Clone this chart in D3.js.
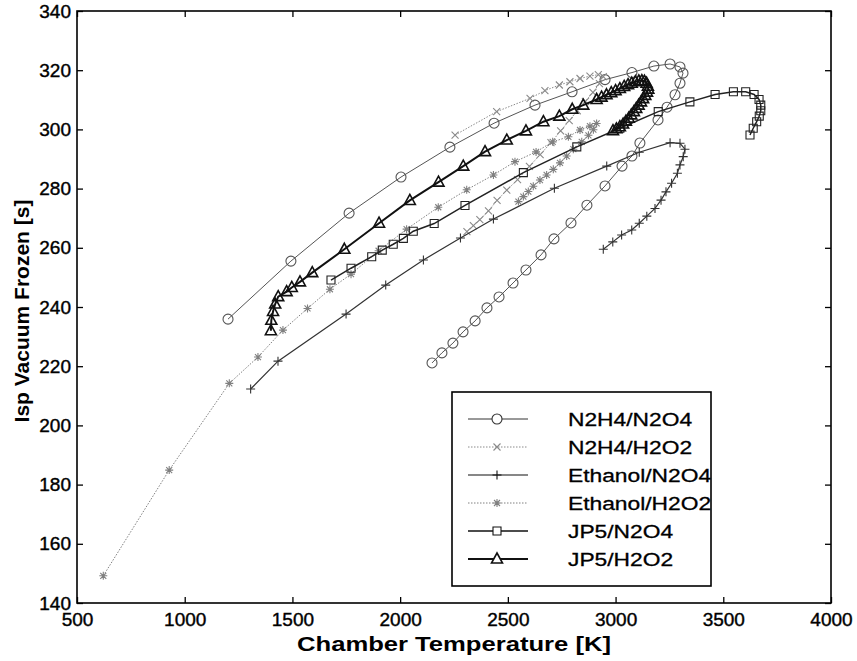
<!DOCTYPE html>
<html>
<head>
<meta charset="utf-8">
<script src="https://cdn.jsdelivr.net/npm/d3@7"></script>
<style>
  body { margin: 0; background: #fff; }
  text { font-family: "Liberation Sans", Arial, Helvetica, sans-serif; }
</style>
</head>
<body>
<div id="chart"></div>
<script>
// tick values
const xTicks = [500, 1000, 1500, 2000, 2500, 3000, 3500, 4000];
const yTicks = [140, 160, 180, 200, 220, 240, 260, 280, 300, 320, 340];

// series values (chamber temperature [K], Isp [s])
const n2h4N2o4T = [1201, 1493, 1763, 2004, 2231, 2436, 2626, 2798, 2951, 3076, 3178, 3253, 3299, 3313, 3299, 3276, 3239, 3197, 3113, 3076, 3030, 2951, 2867, 2793, 2714, 2654, 2584, 2524, 2459, 2403, 2348, 2292, 2245, 2194, 2148];
const n2h4N2o4Isp = [235.9, 255.5, 271.7, 283.9, 294.0, 302.1, 308.2, 312.7, 316.8, 319.2, 321.4, 322.1, 321.1, 319.0, 315.6, 311.7, 307.5, 303.2, 295.4, 291.0, 287.6, 280.9, 274.4, 268.4, 263.0, 257.6, 252.5, 248.1, 243.4, 239.7, 235.3, 231.6, 227.8, 224.5, 221.1];

const n2h4H2o2T = [2255, 2448, 2603, 2672, 2739, 2788, 2835, 2881, 2920, 2943, 2925, 2895, 2860, 2822, 2785, 2745, 2700, 2650, 2600, 2545, 2495, 2450, 2410, 2370, 2340, 2310];
const n2h4H2o2Isp = [298.1, 306.0, 310.5, 313.1, 315.0, 316.1, 317.2, 318.0, 318.5, 317.8, 315.5, 312.5, 309.5, 306.3, 303.0, 299.5, 295.5, 291.5, 287.5, 283.0, 279.5, 276.0, 272.5, 269.5, 267.5, 265.5];

const ethN2o4T = [1306, 1433, 1749, 1933, 2108, 2280, 2433, 2716, 2959, 3110, 3253, 3299, 3322, 3314, 3299, 3287, 3260, 3234, 3211, 3183, 3145, 3110, 3075, 3028, 2987, 2943];
const ethN2o4Isp = [212.3, 221.7, 237.6, 247.4, 255.9, 263.3, 269.7, 280.1, 287.6, 292.3, 295.5, 295.3, 293.3, 290.8, 288.0, 285.2, 281.8, 278.9, 276.1, 273.3, 270.7, 268.3, 266.0, 264.3, 262.0, 259.5];

const ethH2o2T = [622, 928, 1207, 1340, 1456, 1570, 1674, 1772, 1900, 2030, 2177, 2309, 2433, 2533, 2631, 2708, 2781, 2835, 2881, 2912, 2897, 2874, 2843, 2804, 2773, 2742, 2711, 2680, 2649, 2618, 2595, 2572, 2549];
const ethH2o2Isp = [149.2, 184.9, 214.2, 223.1, 232.2, 239.5, 246.0, 251.1, 259.0, 266.3, 273.7, 279.6, 284.6, 289.1, 292.4, 295.8, 297.5, 299.8, 301.1, 302.0, 299.9, 298.0, 295.8, 293.3, 291.0, 288.7, 286.5, 284.6, 282.9, 280.8, 279.0, 277.3, 275.6];

const jp5N2o4T = [1679, 1772, 1868, 1917, 1968, 2015, 2061, 2158, 2301, 2572, 2820, 3020, 3198, 3345, 3462, 3547, 3604, 3643, 3666, 3674, 3674, 3667, 3655, 3639, 3624];
const jp5N2o4Isp = [249.1, 253.1, 257.0, 259.2, 261.2, 263.2, 265.6, 268.2, 274.3, 285.4, 294.1, 300.4, 306.0, 309.3, 311.8, 312.7, 312.7, 311.8, 310.1, 308.2, 306.3, 304.5, 302.6, 300.4, 298.1];

const jp5H2o2T = [1400, 1402, 1410, 1420, 1434, 1473, 1497, 1535, 1592, 1741, 1902, 2045, 2178, 2293, 2394, 2495, 2584, 2665, 2739, 2799, 2850, 2912, 2935, 2958, 2980, 3000, 3020, 3040, 3058, 3075, 3092, 3108, 3122, 3134, 3144, 3150, 3152, 3146, 3138, 3128, 3118, 3107, 3096, 3085, 3073, 3061, 3048, 3035, 3020, 3004, 2988];
const jp5H2o2Isp = [232.0, 235.5, 238.5, 241.0, 243.5, 245.2, 246.6, 248.5, 251.6, 259.5, 268.3, 276.0, 282.2, 287.6, 292.5, 296.4, 299.5, 302.6, 304.5, 306.8, 308.2, 310.1, 310.9, 311.7, 312.4, 313.1, 313.8, 314.5, 315.1, 315.6, 316.1, 316.4, 316.5, 316.3, 315.6, 314.6, 313.6, 312.6, 311.5, 310.4, 309.3, 308.2, 307.1, 306.0, 304.9, 303.8, 302.8, 301.8, 300.9, 300.2, 299.6];

const seriesNames = ["N2H4/N2O4", "N2H4/H2O2", "Ethanol/N2O4", "Ethanol/H2O2", "JP5/N2O4", "JP5/H2O2"];

const width = 857, height = 661;
const plot = {left: 77, right: 831, top: 11, bottom: 603};

const series = [
    {name: seriesNames[0], t: n2h4N2o4T, isp: n2h4N2o4Isp, marker: "circle", color: "#555", legendColor: "#333", lw: 1, dash: null},
    {name: seriesNames[1], t: n2h4H2o2T, isp: n2h4H2o2Isp, marker: "x", color: "#8a8a8a", legendColor: "#8a8a8a", lw: 1, dash: "1.5,1.5"},
    {name: seriesNames[2], t: ethN2o4T, isp: ethN2o4Isp, marker: "plus", color: "#333", legendColor: "#111", lw: 1.2, dash: null},
    {name: seriesNames[3], t: ethH2o2T, isp: ethH2o2Isp, marker: "star", color: "#808080", legendColor: "#808080", lw: 1, dash: "1.5,1.5"},
    {name: seriesNames[4], t: jp5N2o4T, isp: jp5N2o4Isp, marker: "square", color: "#222", legendColor: "#111", lw: 1.5, dash: null},
    {name: seriesNames[5], t: jp5H2o2T, isp: jp5H2o2Isp, marker: "triangle", color: "#111", legendColor: "#111", lw: 2, dash: null}
];

const svg = d3.select("#chart").append("svg")
    .attr("width", width)
    .attr("height", height)
    .style("background", "#fff");

const x = d3.scaleLinear().domain([500, 4000]).range([plot.left, plot.right]);
const y = d3.scaleLinear().domain([140, 340]).range([plot.bottom, plot.top]);

// marker shapes, drawn as open outlines
function markerPath(type) {
    switch (type) {
        case "circle": return d3.symbol(d3.symbolCircle, Math.PI * 25)();
        case "square": return "M-4,-4H4V4H-4Z";
        case "triangle": return "M0,-6L5.5,4H-5.5Z";
        case "plus": return "M-4.5,0H4.5M0,-4.5V4.5";
        case "x": return "M-3.5,-3.5L3.5,3.5M-3.5,3.5L3.5,-3.5";
        case "star": return "M-4,0H4M0,-4V4M-3,-3L3,3M-3,3L3,-3";
    }
}

// axes: ticks pointing inward on all four sides
const axB = svg.append("g").attr("transform", `translate(0,${plot.bottom})`)
    .call(d3.axisBottom(x).tickValues(xTicks).tickSize(-6).tickPadding(10).tickFormat(d3.format("d")));
const axL = svg.append("g").attr("transform", `translate(${plot.left},0)`)
    .call(d3.axisLeft(y).tickValues(yTicks).tickSize(-6).tickPadding(6).tickFormat(d3.format("d")));
const axT = svg.append("g").attr("transform", `translate(0,${plot.top})`)
    .call(d3.axisTop(x).tickValues(xTicks).tickSize(-6).tickFormat(""));
const axR = svg.append("g").attr("transform", `translate(${plot.right},0)`)
    .call(d3.axisRight(y).tickValues(yTicks).tickSize(-6).tickFormat(""));

[axB, axL, axT, axR].forEach(a => {
    a.select(".domain").remove();
    a.selectAll(".tick line").attr("stroke", "#000").attr("stroke-width", 1.3);
    a.selectAll("text").attr("fill", "#000")
        .attr("stroke", "#000").attr("stroke-width", 0.4)
        .style("font-size", "19px")
        .style("font-family", "'Liberation Sans', Arial, sans-serif");
});

svg.append("rect")
    .attr("x", plot.left).attr("y", plot.top)
    .attr("width", plot.right - plot.left).attr("height", plot.bottom - plot.top)
    .attr("fill", "none").attr("stroke", "#000").attr("stroke-width", 1.6);

// axis titles
svg.append("text")
    .attr("x", 297).attr("y", 651)
    .attr("textLength", 314).attr("lengthAdjust", "spacingAndGlyphs")
    .style("font-size", "21px").style("font-weight", "bold")
    .text("Chamber Temperature [K]");

svg.append("text")
    .attr("transform", `translate(29,${(plot.top + plot.bottom) / 2 + 4}) rotate(-90)`)
    .attr("text-anchor", "middle")
    .style("font-size", "21px").style("font-weight", "bold")
    .text("Isp Vacuum Frozen [s]");

// lines + markers
const line = d3.line().x(d => x(d[0])).y(d => y(d[1]));

series.forEach(s => {
    const pts = d3.zip(s.t, s.isp);
    const g = svg.append("g").attr("class", "series");
    g.append("path")
        .datum(pts)
        .attr("d", line)
        .attr("fill", "none")
        .attr("stroke", s.color)
        .attr("stroke-width", s.lw)
        .attr("stroke-dasharray", s.dash);
    g.selectAll("path.marker")
        .data(pts)
        .join("path")
        .attr("class", "marker")
        .attr("transform", d => `translate(${x(d[0])},${y(d[1])})`)
        .attr("d", markerPath(s.marker))
        .attr("fill", "none")
        .attr("stroke", s.color)
        .attr("stroke-width", s.marker === "triangle" ? 1.6 : 1.1);
});

// legend
const legend = svg.append("g");
legend.append("rect")
    .attr("x", 452).attr("y", 392).attr("width", 259).attr("height", 194)
    .attr("fill", "#fff").attr("stroke", "#000").attr("stroke-width", 1.6);

const legendY = d3.scalePoint().domain(seriesNames).range([419, 559]);

series.forEach(s => {
    const ly = legendY(s.name);
    legend.append("line")
        .attr("x1", 468).attr("x2", 528).attr("y1", ly).attr("y2", ly)
        .attr("stroke", s.legendColor).attr("stroke-width", s.lw)
        .attr("stroke-dasharray", s.dash);
    legend.append("path")
        .attr("transform", `translate(497,${ly})`)
        .attr("d", markerPath(s.marker))
        .attr("fill", "#fff").attr("stroke", s.legendColor)
        .attr("stroke-width", s.marker === "triangle" ? 1.6 : 1.1);
    legend.append("g")
        .attr("transform", `translate(568,${ly + 7}) scale(1.2,1)`)
        .append("text")
        .style("font-size", "19px")
        .attr("fill", "#000")
        .attr("stroke", "#000").attr("stroke-width", 0.3)
        .text(s.name);
});
</script>
</body>
</html>
